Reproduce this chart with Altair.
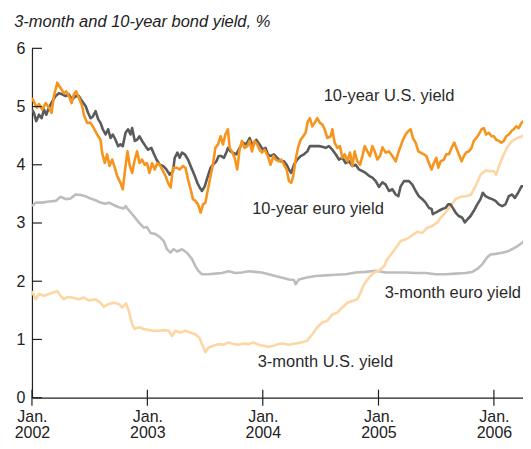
import altair as alt
import pandas as pd
import numpy as np

# ---- data (decimal year, yield %) ----
us10_t = [2002.000, 2002.043, 2002.061, 2002.089, 2002.119, 2002.147, 2002.170, 2002.190, 2002.219, 2002.248,
          2002.277, 2002.297, 2002.320, 2002.343, 2002.363, 2002.383, 2002.407, 2002.435, 2002.450, 2002.478,
          2002.508, 2002.536, 2002.565, 2002.594, 2002.608, 2002.631, 2002.651, 2002.672, 2002.695, 2002.718,
          2002.738, 2002.767, 2002.787, 2002.811, 2002.828, 2002.848, 2002.868, 2002.891, 2002.911, 2002.932,
          2002.954, 2002.978, 2002.997, 2003.018, 2003.041, 2003.064, 2003.087, 2003.107, 2003.136, 2003.157,
          2003.179, 2003.202, 2003.222, 2003.252, 2003.280, 2003.309, 2003.330, 2003.352, 2003.375, 2003.395,
          2003.416, 2003.439, 2003.462, 2003.482, 2003.503, 2003.525, 2003.548, 2003.568, 2003.589, 2003.612,
          2003.635, 2003.655, 2003.676, 2003.698, 2003.713, 2003.733, 2003.756, 2003.779, 2003.799, 2003.819,
          2003.843, 2003.866, 2003.886, 2003.906, 2003.929, 2003.952, 2003.972, 2003.992, 2004.016, 2004.044,
          2004.067, 2004.091, 2004.111, 2004.139, 2004.160, 2004.183, 2004.206, 2004.226, 2004.246, 2004.264,
          2004.284, 2004.304, 2004.327, 2004.350, 2004.370, 2004.390, 2004.407, 2004.428, 2004.448, 2004.471,
          2004.494, 2004.515, 2004.535, 2004.558, 2004.587, 2004.601, 2004.621, 2004.644, 2004.667, 2004.688,
          2004.708, 2004.731, 2004.753, 2004.774, 2004.794, 2004.817, 2004.840, 2004.861, 2004.881, 2004.904,
          2004.927, 2004.947, 2004.967, 2004.990, 2005.013, 2005.034, 2005.062, 2005.091, 2005.120, 2005.149,
          2005.172, 2005.192, 2005.212, 2005.235, 2005.259, 2005.279, 2005.298, 2005.322, 2005.345, 2005.365,
          2005.394, 2005.414, 2005.437, 2005.460, 2005.480, 2005.501, 2005.518, 2005.538, 2005.567, 2005.587,
          2005.610, 2005.633, 2005.657, 2005.674, 2005.696, 2005.720, 2005.740, 2005.760, 2005.783, 2005.806,
          2005.826, 2005.847, 2005.869, 2005.893, 2005.913, 2005.933, 2005.956, 2005.979, 2005.999, 2006.020,
          2006.042, 2006.066, 2006.086, 2006.106, 2006.129, 2006.152, 2006.172, 2006.193, 2006.215, 2006.239,
          2006.259, 2006.279, 2006.302, 2006.319]
us10_v = [5.15, 4.98, 5.04, 4.95, 5.06, 4.98, 4.89, 5.18, 5.41, 5.32,
          5.23, 5.26, 5.18, 5.06, 5.21, 5.26, 5.15, 5.01, 4.86, 4.72,
          4.72, 4.63, 4.52, 4.43, 4.21, 4.03, 4.18, 3.98, 4.09, 3.95,
          3.81, 3.69, 3.58, 3.98, 4.23, 3.98, 3.86, 4.09, 4.23, 4.03,
          4.09, 4.00, 4.03, 3.86, 4.03, 3.92, 4.03, 4.00, 3.89, 3.81,
          3.69, 3.61, 3.95, 3.95, 3.92, 3.98, 3.95, 3.75, 3.58, 3.41,
          3.38, 3.32, 3.18, 3.32, 3.35, 3.58, 3.81, 4.00, 4.29, 4.35,
          4.49, 4.35, 4.52, 4.61, 4.29, 4.23, 4.12, 3.92, 4.26, 4.41,
          4.29, 4.32, 4.41, 4.23, 4.41, 4.35, 4.26, 4.21, 4.26, 4.15,
          4.00, 4.15, 4.09, 4.06, 4.09, 4.00, 3.92, 3.72, 3.69, 3.81,
          4.09, 4.29, 4.43, 4.49, 4.55, 4.75, 4.80, 4.66, 4.72, 4.80,
          4.72, 4.69, 4.61, 4.46, 4.49, 4.61, 4.38, 4.29, 4.32, 4.12,
          4.18, 4.06, 4.21, 3.98, 4.23, 4.06, 4.00, 4.15, 4.32, 4.23,
          4.15, 4.32, 4.23, 4.09, 4.15, 4.30, 4.21, 4.23, 4.15, 4.06,
          4.21, 4.32, 4.43, 4.52, 4.58, 4.61, 4.46, 4.38, 4.23, 4.21,
          4.18, 4.15, 4.03, 3.92, 4.03, 4.12, 3.95, 4.06, 4.09, 4.18,
          4.18, 4.29, 4.38, 4.29, 4.18, 4.06, 4.15, 4.21, 4.23, 4.29,
          4.41, 4.46, 4.52, 4.61, 4.63, 4.52, 4.55, 4.49, 4.49, 4.43,
          4.41, 4.38, 4.41, 4.49, 4.52, 4.58, 4.61, 4.66, 4.63, 4.72,
          4.75, 4.80, 4.89, 4.95]

eu10_t = [2002.000, 2002.017, 2002.037, 2002.061, 2002.084, 2002.104, 2002.124, 2002.147, 2002.176, 2002.205,
          2002.234, 2002.262, 2002.292, 2002.320, 2002.349, 2002.378, 2002.407, 2002.435, 2002.465, 2002.487,
          2002.508, 2002.528, 2002.551, 2002.574, 2002.594, 2002.614, 2002.638, 2002.660, 2002.681, 2002.701,
          2002.724, 2002.747, 2002.767, 2002.787, 2002.811, 2002.833, 2002.854, 2002.868, 2002.891, 2002.911,
          2002.932, 2002.954, 2002.984, 2003.006, 2003.035, 2003.058, 2003.079, 2003.107, 2003.136, 2003.165,
          2003.194, 2003.222, 2003.237, 2003.260, 2003.280, 2003.300, 2003.324, 2003.352, 2003.381, 2003.410,
          2003.433, 2003.453, 2003.473, 2003.497, 2003.520, 2003.548, 2003.568, 2003.598, 2003.618, 2003.641,
          2003.664, 2003.684, 2003.698, 2003.721, 2003.741, 2003.771, 2003.799, 2003.828, 2003.857, 2003.886,
          2003.914, 2003.944, 2003.972, 2004.001, 2004.024, 2004.044, 2004.067, 2004.096, 2004.125, 2004.154,
          2004.183, 2004.206, 2004.226, 2004.246, 2004.269, 2004.298, 2004.327, 2004.356, 2004.385, 2004.407,
          2004.442, 2004.485, 2004.515, 2004.543, 2004.572, 2004.601, 2004.630, 2004.658, 2004.688, 2004.716,
          2004.745, 2004.774, 2004.803, 2004.831, 2004.861, 2004.889, 2004.918, 2004.947, 2004.976, 2005.004,
          2005.034, 2005.062, 2005.091, 2005.120, 2005.149, 2005.172, 2005.192, 2005.221, 2005.264, 2005.293,
          2005.322, 2005.350, 2005.380, 2005.408, 2005.437, 2005.460, 2005.471, 2005.495, 2005.523, 2005.553,
          2005.581, 2005.604, 2005.624, 2005.644, 2005.668, 2005.696, 2005.726, 2005.748, 2005.769, 2005.798,
          2005.826, 2005.856, 2005.884, 2005.904, 2005.927, 2005.956, 2005.985, 2006.014, 2006.042, 2006.072,
          2006.100, 2006.129, 2006.158, 2006.181, 2006.210, 2006.239, 2006.259, 2006.279, 2006.302, 2006.319]
eu10_v = [4.95, 4.89, 4.75, 4.86, 4.80, 4.95, 4.86, 4.98, 5.09, 5.18,
          5.23, 5.21, 5.18, 5.21, 5.12, 5.18, 5.18, 5.09, 5.01, 4.89,
          4.80, 4.83, 4.92, 4.78, 4.72, 4.61, 4.52, 4.61, 4.46, 4.52,
          4.43, 4.32, 4.35, 4.32, 4.55, 4.61, 4.52, 4.63, 4.41, 4.43,
          4.49, 4.41, 4.32, 4.26, 4.29, 4.18, 4.09, 4.00, 3.98, 3.92,
          3.83, 3.89, 4.12, 4.21, 4.12, 4.21, 4.18, 4.09, 3.95, 3.81,
          3.69, 3.61, 3.55, 3.63, 3.78, 3.95, 4.00, 4.06, 4.15, 4.15,
          4.12, 4.21, 4.29, 4.23, 4.21, 4.18, 4.29, 4.38, 4.35, 4.46,
          4.32, 4.43, 4.35, 4.26, 4.29, 4.18, 4.15, 4.18, 4.12, 4.06,
          4.06, 4.00, 3.92, 3.86, 4.00, 4.09, 4.15, 4.18, 4.23, 4.32,
          4.32, 4.32, 4.31, 4.29, 4.32, 4.26, 4.18, 4.09, 4.12, 4.03,
          4.06, 3.98, 4.00, 3.92, 3.89, 3.86, 3.81, 3.78, 3.72, 3.62,
          3.70, 3.66, 3.55, 3.58, 3.49, 3.46, 3.63, 3.72, 3.72, 3.66,
          3.55, 3.46, 3.41, 3.35, 3.26, 3.24, 3.15, 3.18, 3.21, 3.24,
          3.26, 3.32, 3.32, 3.26, 3.18, 3.12, 3.09, 3.01, 3.06, 3.12,
          3.21, 3.32, 3.41, 3.52, 3.46, 3.43, 3.41, 3.38, 3.32, 3.29,
          3.32, 3.46, 3.49, 3.43, 3.52, 3.63, 3.63, 3.72, 3.81, 3.89]

eu3_t = [2002.000, 2002.032, 2002.089, 2002.147, 2002.205, 2002.248, 2002.292, 2002.335, 2002.378, 2002.421,
         2002.465, 2002.508, 2002.551, 2002.594, 2002.638, 2002.666, 2002.709, 2002.753, 2002.796, 2002.811,
         2002.839, 2002.882, 2002.926, 2002.969, 2002.997, 2003.027, 2003.070, 2003.113, 2003.142, 2003.170,
         2003.200, 2003.228, 2003.257, 2003.300, 2003.343, 2003.387, 2003.416, 2003.445, 2003.473, 2003.531,
         2003.589, 2003.646, 2003.704, 2003.762, 2003.819, 2003.877, 2003.935, 2003.992, 2004.050, 2004.108,
         2004.169, 2004.226, 2004.269, 2004.284, 2004.312, 2004.370, 2004.457, 2004.543, 2004.630, 2004.716,
         2004.803, 2004.889, 2004.976, 2005.062, 2005.149, 2005.235, 2005.322, 2005.408, 2005.495, 2005.581,
         2005.668, 2005.754, 2005.812, 2005.856, 2005.899, 2005.942, 2005.971, 2006.014, 2006.072, 2006.129,
         2006.187, 2006.245, 2006.288, 2006.317]
eu3_v = [3.29, 3.35, 3.35, 3.37, 3.38, 3.45, 3.41, 3.42, 3.49, 3.48,
         3.46, 3.42, 3.39, 3.35, 3.33, 3.35, 3.31, 3.27, 3.25, 3.29,
         3.22, 3.12, 3.01, 2.92, 2.93, 2.83, 2.81, 2.75, 2.69, 2.55,
         2.49, 2.55, 2.51, 2.55, 2.49, 2.38, 2.26, 2.17, 2.12, 2.12,
         2.13, 2.14, 2.17, 2.14, 2.15, 2.17, 2.16, 2.15, 2.12, 2.09,
         2.06, 2.03, 2.02, 1.95, 2.03, 2.06, 2.09, 2.10, 2.11, 2.12,
         2.15, 2.16, 2.18, 2.15, 2.15, 2.15, 2.14, 2.14, 2.12, 2.12,
         2.13, 2.14, 2.16, 2.21, 2.29, 2.41, 2.46, 2.47, 2.49, 2.52,
         2.58, 2.66, 2.75, 2.82]

us3_t = [2002.000, 2002.032, 2002.061, 2002.104, 2002.147, 2002.190, 2002.219, 2002.248, 2002.277, 2002.305,
         2002.349, 2002.407, 2002.450, 2002.493, 2002.551, 2002.594, 2002.623, 2002.666, 2002.709, 2002.753,
         2002.781, 2002.816, 2002.839, 2002.868, 2002.891, 2002.926, 2002.969, 2003.012, 2003.055, 2003.099,
         2003.142, 2003.185, 2003.214, 2003.243, 2003.286, 2003.330, 2003.373, 2003.416, 2003.451, 2003.473,
         2003.503, 2003.531, 2003.574, 2003.618, 2003.661, 2003.704, 2003.747, 2003.791, 2003.834, 2003.877,
         2003.920, 2003.964, 2004.007, 2004.050, 2004.093, 2004.131, 2004.169, 2004.226, 2004.284, 2004.342,
         2004.385, 2004.428, 2004.471, 2004.515, 2004.558, 2004.601, 2004.644, 2004.688, 2004.731, 2004.774,
         2004.817, 2004.846, 2004.875, 2004.918, 2004.961, 2005.004, 2005.048, 2005.077, 2005.120, 2005.164,
         2005.192, 2005.235, 2005.264, 2005.307, 2005.337, 2005.380, 2005.423, 2005.466, 2005.510, 2005.538,
         2005.581, 2005.625, 2005.668, 2005.711, 2005.754, 2005.798, 2005.841, 2005.884, 2005.927, 2005.971,
         2006.000, 2006.020, 2006.048, 2006.086, 2006.115, 2006.158, 2006.201, 2006.245, 2006.288, 2006.317]
us3_v = [1.83, 1.69, 1.78, 1.75, 1.78, 1.81, 1.83, 1.75, 1.69, 1.73,
         1.72, 1.69, 1.72, 1.67, 1.69, 1.63, 1.56, 1.61, 1.63, 1.61,
         1.55, 1.62, 1.49, 1.26, 1.18, 1.21, 1.18, 1.16, 1.15, 1.15,
         1.16, 1.15, 1.06, 1.15, 1.12, 1.15, 1.12, 1.09, 1.03, 0.92,
         0.78, 0.86, 0.89, 0.92, 0.91, 0.95, 0.92, 0.91, 0.93, 0.92,
         0.95, 0.91, 0.89, 0.87, 0.89, 0.92, 0.93, 0.91, 0.93, 0.95,
         0.98, 1.09, 1.21, 1.29, 1.32, 1.43, 1.46, 1.55, 1.63, 1.66,
         1.69, 1.81, 1.95, 2.06, 2.15, 2.18, 2.26, 2.38, 2.49, 2.61,
         2.69, 2.72, 2.75, 2.81, 2.85, 2.83, 2.92, 2.95, 3.01, 3.09,
         3.18, 3.29, 3.41, 3.45, 3.46, 3.48, 3.63, 3.83, 3.90, 3.89,
         3.89, 3.83, 4.00, 4.18, 4.30, 4.41, 4.46, 4.49, 4.55, 4.58]

series_names = ["3-month euro", "3-month U.S.", "10-year euro", "10-year U.S."]
series_colors = ["#BDBDBD", "#FDD6A4", "#5B5B5B", "#F7941D"]

label_texts = ["10-year U.S. yield", "10-year euro yield", "3-month euro yield", "3-month U.S. yield"]
label_t = [2005.091, 2004.477, 2005.644, 2004.541]
label_v = [5.18, 3.24, 1.80, 0.62]

year_ticks = [2002, 2003, 2004, 2005, 2006]
y_ticks = [0, 1, 2, 3, 4, 5, 6]
title_text = "3-month and 10-year bond yield, %"


def to_date(t):
    y = int(np.floor(t + 1e-9))
    start = pd.Timestamp(year=y, month=1, day=1)
    end = pd.Timestamp(year=y + 1, month=1, day=1)
    return start + (end - start) * (t - y)


frames = []
for name, ts, vs in [("3-month euro", eu3_t, eu3_v), ("3-month U.S.", us3_t, us3_v),
                     ("10-year euro", eu10_t, eu10_v), ("10-year U.S.", us10_t, us10_v)]:
    frames.append(pd.DataFrame({"series": name, "date": [to_date(t) for t in ts], "value": vs}))
data = pd.concat(frames, ignore_index=True)

labels_df = pd.DataFrame({"text": label_texts, "date": [to_date(t) for t in label_t], "value": label_v})
xticks_df = pd.DataFrame({"date": [pd.Timestamp(year=y, month=1, day=1) for y in year_ticks]})
yticks_df = pd.DataFrame({"value": y_ticks})

FONT = "Liberation Sans"
AX = "#222222"
W, H = 492, 350

x_scale = alt.Scale(domain=[alt.DateTime(year=2002, month=1, date=1), alt.DateTime(year=2006, month=4, date=3)])
y_scale = alt.Scale(domain=[0, 6], nice=False, zero=True)

x_axis = alt.Axis(
    values=[alt.DateTime(year=y, month=1, date=1) for y in year_ticks],
    labelExpr="['Jan.', timeFormat(datum.value, '%Y')]",
    ticks=False, grid=False, title=None,
    labelFont=FONT, labelFontSize=16, labelColor=AX, labelPadding=11,
    labelLineHeight=16, labelFlush=False, labelOverlap=False, labelAlign="center",
    domainColor=AX, domainWidth=1.2,
)
y_axis = alt.Axis(
    values=y_ticks, ticks=False, grid=False, title=None,
    labelFont=FONT, labelFontSize=16, labelColor=AX, labelPadding=7,
    domainColor=AX, domainWidth=1.2,
)

X = alt.X("date:T", scale=x_scale, axis=x_axis)
Y = alt.Y("value:Q", scale=y_scale, axis=y_axis)

color_scale = alt.Scale(domain=series_names, range=series_colors)

layers = []
for name in series_names:
    layers.append(
        alt.Chart(data).transform_filter(alt.datum.series == name)
        .mark_line(strokeWidth=2.6, strokeJoin="round", clip=True)
        .encode(x=X, y=Y, color=alt.Color("series:N", scale=color_scale, legend=None))
    )

xtick_rules = alt.Chart(xticks_df).mark_rule(color=AX, strokeWidth=1.2).encode(
    x=X, y=alt.value(H - 8), y2=alt.value(H + 8),
)
ytick_rules = alt.Chart(yticks_df).mark_rule(color=AX, strokeWidth=1.2).encode(
    y=Y, x=alt.value(0), x2=alt.value(10),
)
text_layer = alt.Chart(labels_df).mark_text(
    font=FONT, fontSize=16.5, color="#2a2a2a", align="center", baseline="middle"
).encode(x=X, y=Y, text="text:N")

chart = alt.layer(*layers, xtick_rules, ytick_rules, text_layer).properties(
    width=W, height=H,
    padding={"left": 6, "top": 5, "right": 0, "bottom": 0},
    title=alt.TitleParams(
        text=title_text, anchor="start", frame="bounds", font=FONT, fontSize=16.5,
        fontStyle="italic", fontWeight="normal", color=AX, offset=10,
    ),
).configure_view(stroke=None)

chart.save("out.html", embed_options={"renderer": "svg", "actions": False})
